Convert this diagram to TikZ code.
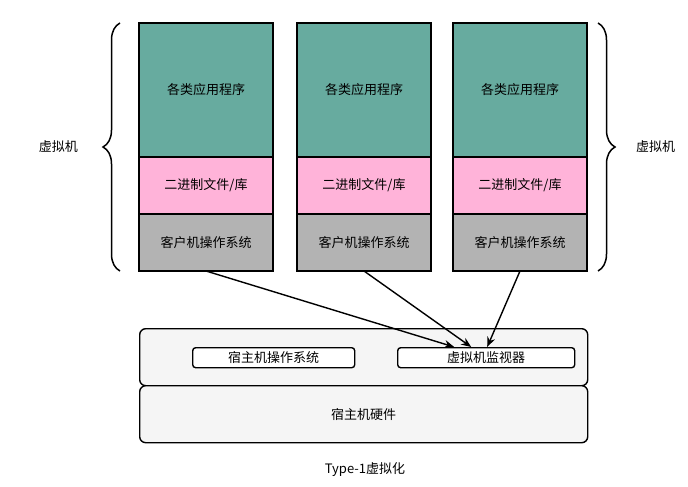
\documentclass[tikz,border=0pt]{standalone}
\usepackage{fontspec}
\setmainfont{Noto Sans CJK SC}
\usepackage{xcolor}
\usetikzlibrary{arrows.meta,decorations.pathreplacing}
\definecolor{appgreen}{HTML}{67AB9F}
\definecolor{libpink}{HTML}{FFB3D9}
\definecolor{osgray}{HTML}{B3B3B3}
\definecolor{hostbg}{HTML}{F5F5F5}

\begin{document}
\begin{tikzpicture}[x=1pt,y=-1pt,font=\fontsize{13}{15}\selectfont,
  layer/.style={draw,line width=1.6pt,anchor=north west,inner sep=0pt,outer sep=0pt,minimum width=134pt},
  hostbox/.style={draw,line width=1.4pt,rounded corners=6pt,fill=hostbg,anchor=north west,inner sep=0pt,minimum width=448pt,minimum height=57pt},
  innerbox/.style={draw,line width=1.4pt,rounded corners=3pt,fill=white,anchor=north west,inner sep=0pt,minimum height=20pt},
  call/.style={line width=1.4pt,-{Stealth[length=10pt,width=8pt]}}]
  \useasboundingbox (0,0) rectangle (688,487);
  % three guest machines: apps / binaries / guest OS
  \foreach \i/\x in {1/139,2/297,3/453}{
    \node[layer,fill=appgreen,minimum height=134pt] (app\i) at (\x,23) {各类应用程序};
    \node[layer,fill=libpink,minimum height=57pt] (lib\i) at (\x,157) {二进制文件/库};
    \node[layer,fill=osgray,minimum height=57pt] (gos\i) at (\x,214) {客户机操作系统};
  }
  % host side
  \node[hostbox] (hostos) at (139,328) {};
  \node[hostbox] (hw) at (139,385) {宿主机硬件};
  \node[innerbox,minimum width=162pt] (hos) at (192,347) {宿主机操作系统};
  \node[innerbox,minimum width=177pt] (vmm) at (397,347) {虚拟机监视器};
  % guest OS calls go to the hypervisor
  \draw[call] (gos1.south) -- ([xshift=-32pt]vmm.north);
  \draw[call] (gos2.south) -- ([xshift=-15pt]vmm.north);
  \draw[call] (gos3.south) -- ([xshift=1pt]vmm.north);
  % braces
  \draw[line width=1.5pt,decorate,decoration={brace,amplitude=17pt}] (120,271) -- (120,23)
     node[midway,left=38pt] (vml) {虚拟机};
  \draw[line width=1.5pt,decorate,decoration={brace,amplitude=17pt}] (598,23) -- (598,271)
     node[midway,right=34pt] (vmr) {虚拟机};
  \node (title) at (365,470) {Type-1虚拟化};
\end{tikzpicture}
\end{document}
